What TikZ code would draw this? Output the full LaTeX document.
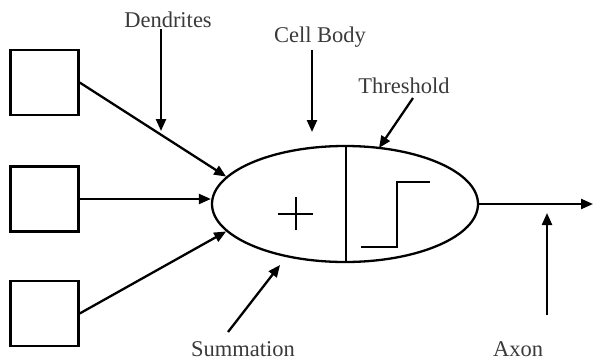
\documentclass[tikz,border=0pt]{standalone}
\usepackage{fontspec}
\setmainfont{Liberation Serif}
\usetikzlibrary{arrows.meta,shapes.geometric}
\definecolor{labelgray}{HTML}{3A3A3A}
\tikzset{
  inbox/.style={draw, line width=2.3pt, minimum width=68pt, minimum height=65pt, inner sep=0pt},
  cell/.style={draw, ellipse, line width=2.3pt, minimum width=266pt, minimum height=116pt, inner sep=0pt},
  conn/.style={line width=2.3pt, -{Triangle[length=12pt,width=10pt]}},
  lbl/.style={text=labelgray, font=\fontsize{22.5}{26}\selectfont, inner sep=1pt},
  thin/.style={line width=1.1pt},
  mid/.style={line width=2.3pt}
}
\begin{document}
\begin{tikzpicture}[x=1pt,y=-1pt]
\useasboundingbox (0,0) rectangle (593,361);
\node[inbox] (b1) at (44.5,82.5) {};
\node[inbox] (b2) at (44.5,199) {};
\node[inbox] (b3) at (44.5,313.5) {};
\node[cell] (body) at (345,204) {};
% divider
\coordinate (dtop) at (346,146);
\coordinate (dbot) at (346,262);
\draw[mid] (dtop) -- (dbot);
% plus
\coordinate (pl) at (278,214);
\coordinate (pr) at (313,214);
\coordinate (pt) at (296,197);
\coordinate (pb) at (296,230);
\draw[thin] (pl) -- (pr);
\draw[thin] (pt) -- (pb);
% step
\coordinate (s1) at (361,247);
\coordinate (s2) at (397,247);
\coordinate (s3) at (397,182);
\coordinate (s4) at (430,182);
\draw[mid] (s1) -- (s2) -- (s3) -- (s4);
% inputs
\draw[conn] (b1.east) -- (body.167);
\draw[conn] (b2.east) -- (b2.east -| body.west);
\draw[conn] (b3.east) -- (body.193);
% output
\coordinate (out) at (593,204);
\draw[conn] (body.east) -- (out);
% labels
\node[lbl] (dend) at (168,20) {Dendrites};
\node[lbl] (cellb) at (320,37) {Cell Body};
\node[lbl] (thr) at (404,86) {Threshold};
\node[lbl] (summ) at (243,349) {Summation};
\node[lbl] (axon) at (518,349) {Axon};
% label arrows
\coordinate (dendtip) at (161,131);
\draw[conn] (dend.south -| dendtip) -- (dendtip);
\coordinate (celltip) at (312,132);
\draw[conn] (cellb.south -| celltip) ++(0,2) -- (celltip);
\coordinate (thrstart) at (413,98);
\coordinate (thrtip) at (379,148);
\draw[conn] (thrstart) -- (thrtip);
\coordinate (sumstart) at (228,332);
\coordinate (sumtip) at (280,265);
\draw[conn] (sumstart) -- (sumtip);
\coordinate (axstart) at (547,315);
\coordinate (axtip) at (547,213);
\draw[conn] (axstart) -- (axtip);
\end{tikzpicture}
\end{document}
